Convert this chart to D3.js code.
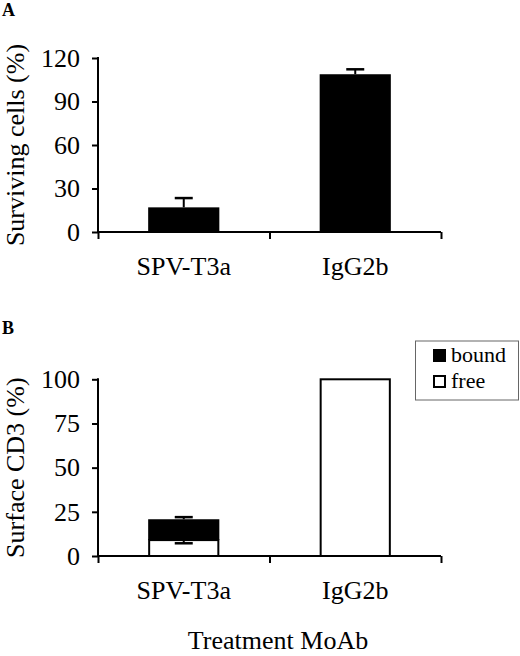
<!DOCTYPE html>
<html lang="en">
<head>
    <meta charset="UTF-8">
    <title>Surviving cells and surface CD3</title>
    <style>
        body{
            margin:0;
            background:#fff;
        }
        text{
            font-family:"Liberation Serif", "DejaVu Serif", serif;
        }
    </style>
    <script src="https://cdnjs.cloudflare.com/ajax/libs/d3/7.8.5/d3.min.js"></script>
</head>
<body>
<div id="container"></div>
<script>

var categories = ["SPV-T3a", "IgG2b"];

// panel A: surviving cells (%)
var survival = [17, 108.8];
var survivalErr = [6.4, 3.4];
var ticksA = [0, 30, 60, 90, 120];

// panel B: surface CD3 (%), stacked free + bound
var freeCD3 = [9, 100];
var boundCD3 = [11.8, 0];
var freeErr = [1.8, 0];
var totalErr = [1.2, 0];
var ticksB = [0, 25, 50, 75, 100];

var legendLabels = ["bound", "free"];

var w = 520;
var h = 656;

var svg = d3.select("#container")
        .append("svg")
        .attr("width", w)
        .attr("height", h);

var left = 98, right = 441;

var xScale = d3.scaleBand()
        .domain(categories)
        .range([left, right])
        .paddingInner(0.585)
        .paddingOuter(0.2925);

// axis with ticks at band edges
var xEdges = d3.scaleLinear().domain([0, categories.length]).range([left, right]);

function drawAxes(g, yScale, ticks, yLabel) {
    var yAxis = d3.axisLeft(yScale)
            .tickValues(ticks)
            .tickSize(6)
            .tickPadding(12);
    var ga = g.append("g")
            .attr("transform", "translate(" + left + ",0)")
            .call(yAxis);
    ga.select(".domain").remove();
    ga.selectAll(".tick line").attr("stroke", "#000").attr("stroke-width", 2);
    ga.selectAll(".tick text")
            .attr("font-size", "26px")
            .attr("font-family", "Liberation Serif")
            .attr("fill", "#000");

    g.append("line")
            .attr("x1", left).attr("x2", left)
            .attr("y1", yScale(ticks[ticks.length - 1]) - 1)
            .attr("y2", yScale(0))
            .attr("stroke", "#000")
            .attr("stroke-width", 2);

    var xAxis = d3.axisBottom(xEdges)
            .tickValues(d3.range(0, categories.length + 1))
            .tickSize(7)
            .tickFormat("");
    var gx = g.append("g")
            .attr("transform", "translate(0," + yScale(0) + ")")
            .call(xAxis);
    gx.select(".domain").attr("stroke", "#000").attr("stroke-width", 2)
            .attr("d", "M" + (left - 1) + ",0H" + right);
    gx.selectAll(".tick line").attr("stroke", "#000").attr("stroke-width", 2);

    g.selectAll(".cat")
            .data(categories)
            .enter()
            .append("text")
            .attr("class", "cat")
            .attr("x", function(d) { return xScale(d) + xScale.bandwidth() / 2; })
            .attr("y", yScale(0) + 43)
            .attr("text-anchor", "middle")
            .attr("font-size", "26px")
            .text(function(d) { return d; });

    var ymid = (yScale(ticks[ticks.length - 1]) + yScale(0)) / 2;
    g.append("text")
            .attr("transform", "translate(24," + ymid + ") rotate(-90)")
            .attr("text-anchor", "middle")
            .attr("font-size", "26px")
            .text(yLabel);
}

function errorBar(g, cx, yFrom, yTo) {
    g.append("line")
            .attr("x1", cx).attr("x2", cx)
            .attr("y1", yFrom).attr("y2", yTo)
            .attr("stroke", "#000").attr("stroke-width", 2);
    g.append("line")
            .attr("x1", cx - 9).attr("x2", cx + 9)
            .attr("y1", yTo).attr("y2", yTo)
            .attr("stroke", "#000").attr("stroke-width", 2.5);
}

// ---------- panel A ----------
var gA = svg.append("g");
var yA = d3.scaleLinear().domain([0, 120]).range([232, 58]);

gA.append("text")
        .attr("x", 2).attr("y", 16)
        .attr("font-size", "18px")
        .attr("font-weight", "bold")
        .text("A");

survival.forEach(function(d, i) {
    var cx = xScale(categories[i]) + xScale.bandwidth() / 2;
    errorBar(gA, cx, yA(d), yA(d + survivalErr[i]));
});

gA.selectAll("rect.bar")
        .data(survival)
        .enter()
        .append("rect")
        .attr("class", "bar")
        .attr("x", function(d, i) { return xScale(categories[i]); })
        .attr("y", function(d) { return yA(d); })
        .attr("width", xScale.bandwidth())
        .attr("height", function(d) { return yA(0) - yA(d); })
        .attr("fill", "#000");

drawAxes(gA, yA, ticksA, "Surviving cells (%)");

// ---------- panel B ----------
var gB = svg.append("g");
var yB = d3.scaleLinear().domain([0, 100]).range([556, 379.3]);

gB.append("text")
        .attr("x", 2).attr("y", 334)
        .attr("font-size", "18px")
        .attr("font-weight", "bold")
        .text("B");

// free (white) segments
gB.selectAll("rect.free")
        .data(freeCD3)
        .enter()
        .append("rect")
        .attr("class", "free")
        .attr("x", function(d, i) { return xScale(categories[i]) + 1; })
        .attr("y", function(d) { return yB(d); })
        .attr("width", xScale.bandwidth() - 2)
        .attr("height", function(d) { return yB(0) - yB(d); })
        .attr("fill", "#fff")
        .attr("stroke", "#000")
        .attr("stroke-width", 2);

// bound (black) segments
gB.selectAll("rect.bound")
        .data(boundCD3)
        .enter()
        .append("rect")
        .attr("class", "bound")
        .attr("x", function(d, i) { return xScale(categories[i]); })
        .attr("y", function(d, i) { return yB(freeCD3[i] + d); })
        .attr("width", xScale.bandwidth())
        .attr("height", function(d, i) { return yB(freeCD3[i]) - yB(freeCD3[i] + d); })
        .attr("fill", "#000");

categories.forEach(function(c, i) {
    var cx = xScale(c) + xScale.bandwidth() / 2;
    if (freeErr[i] > 0) {
        errorBar(gB, cx, yB(freeCD3[i]), yB(freeCD3[i] - freeErr[i]));
    }
    if (totalErr[i] > 0) {
        var tot = freeCD3[i] + boundCD3[i];
        errorBar(gB, cx, yB(tot), yB(tot + totalErr[i]));
    }
});

drawAxes(gB, yB, ticksB, "Surface CD3 (%)");

// legend
var legend = gB.append("g");
legend.append("rect")
        .attr("x", 415.5).attr("y", 341)
        .attr("width", 103).attr("height", 59)
        .attr("fill", "#fff")
        .attr("stroke", "#666")
        .attr("stroke-width", 1);

legend.selectAll("rect.key")
        .data(legendLabels)
        .enter()
        .append("rect")
        .attr("class", "key")
        .attr("x", 434)
        .attr("y", function(d, i) { return 350 + i * 26; })
        .attr("width", 11)
        .attr("height", 11)
        .attr("fill", function(d, i) { return i === 0 ? "#000" : "#fff"; })
        .attr("stroke", "#000")
        .attr("stroke-width", 2);

legend.selectAll("text.key")
        .data(legendLabels)
        .enter()
        .append("text")
        .attr("class", "key")
        .attr("x", 451)
        .attr("y", function(d, i) { return 362 + i * 26; })
        .attr("font-size", "22px")
        .text(function(d) { return d; });

svg.append("text")
        .attr("x", 278)
        .attr("y", 649)
        .attr("text-anchor", "middle")
        .attr("font-size", "26px")
        .text("Treatment MoAb");

</script>
</body>
</html>
